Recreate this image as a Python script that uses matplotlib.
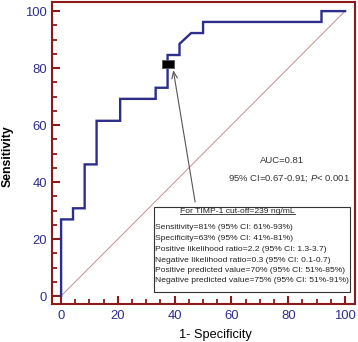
import matplotlib
matplotlib.use("Agg")
import matplotlib.pyplot as plt
from matplotlib.ticker import MultipleLocator
from matplotlib.patches import Rectangle
from matplotlib.lines import Line2D

plt.rcParams['font.family'] = ['Liberation Sans', 'DejaVu Sans']
plt.rcParams['mathtext.fontset'] = 'custom'
plt.rcParams['mathtext.rm'] = 'Liberation Sans'
plt.rcParams['mathtext.it'] = 'Liberation Sans:italic'

# ROC curve (1-specificity %, sensitivity %)
fpr = [0, 0, 4.2, 4.2, 8.3, 8.3, 12.5, 12.5, 20.8, 20.8, 33.3, 33.3, 37.5, 37.5,
       41.7, 41.7, 45.8, 50.0, 50.0, 91.7, 91.7, 100]
tpr = [0, 26.9, 26.9, 30.8, 30.8, 46.2, 46.2, 61.5, 61.5, 69.2, 69.2, 73.1, 73.1, 84.6,
       84.6, 88.5, 92.3, 92.3, 96.2, 96.2, 100, 100]
cutoff_point = (37.5, 81.5)
xticks = [0, 20, 40, 60, 80, 100]
yticks = [0, 20, 40, 60, 80, 100]
auc_lines = ["AUC=0.81", "95% CI=0.67-0.91; $P$< 0.001"]
box_title = "For TIMP-1 cut-off=239 ng/mL"
box_lines = [
    "Sensitivity=81% (95% CI: 61%-93%)",
    "Specificity=63% (95% CI: 41%-81%)",
    "Positive likelihood ratio=2.2 (95% CI: 1.3-3.7)",
    "Negative likelihood ratio=0.3 (95% CI: 0.1-0.7)",
    "Positive predicted value=70% (95% CI: 51%-85%)",
    "Negative predicted value=75% (95% CI: 51%-91%)",
]

spine_col = '#8C1A1A'
line_col = '#2D2E8C'
tick_col = '#2E2E8E'

fig = plt.figure(figsize=(3.58, 3.42), dpi=100)
ax = fig.add_axes([52/358, 38/342, 303/358, 302/342])
ax.set_xlim(-3.2, 103.5)
ax.set_ylim(-2.8, 103.2)

# diagonal reference
ax.plot([0, 100], [0, 100], color='#C09090', lw=0.7, zorder=1)
# ROC curve
ax.plot(fpr, tpr, color=line_col, lw=1.7, zorder=3, solid_joinstyle='miter')
# cut-off marker
ax.plot([cutoff_point[0]], [cutoff_point[1]], marker=[(-1.5, -1), (1.5, -1), (1.5, 1), (-1.5, 1), (-1.5, -1)],
        markersize=8.5, color='black', markeredgecolor='#555555', markeredgewidth=0.6, zorder=5)

for s in ax.spines.values():
    s.set_color(spine_col)
    s.set_linewidth(1.5)

ax.set_xticks(xticks)
ax.set_yticks(yticks)
ax.xaxis.set_minor_locator(MultipleLocator(5))
ax.yaxis.set_minor_locator(MultipleLocator(5))
ax.tick_params(which='major', direction='in', length=6, width=1.5, color=spine_col,
               labelcolor=tick_col, labelsize=9.4)
ax.tick_params(axis='x', which='major', pad=4.0)
ax.tick_params(axis='y', which='major', pad=3.6)
ax.tick_params(which='minor', direction='in', length=3.6, width=1.3, color=spine_col)
ax.tick_params(top=False, right=False, which='both')

fig.text(215/358, 4/342, "1- Specificity", ha='center', va='baseline', fontsize=9.2, color='black')
fig.text(7.5/358, 1 - 156/342, "Sensitivity", ha='center', va='center', rotation=90,
         fontsize=8.8, fontweight='bold', color='black')

# AUC text
ax.text(77.7, 47.7, auc_lines[0], ha='center', va='center', fontsize=6.8, color='#333333')
ax.text(80.3, 41.3, auc_lines[1], ha='center', va='center', fontsize=6.8, color='#333333')

# info box
box = Rectangle((32.7, 1.4), 101.8 - 32.7, 31.2 - 1.4, facecolor='white', edgecolor='#333333',
                lw=0.8, zorder=4)
ax.add_patch(box)
t_title = ax.text(62.1, 29.5, box_title, ha='center', va='center', fontsize=6.1, color='#222222',
                  zorder=6)
ys = [23.9, 20.2, 16.3, 12.6, 8.9, 5.3]
for y, s in zip(ys, box_lines):
    ax.text(33.2, y, s, ha='left', va='center', fontsize=6.1, color='#222222', zorder=6)

# arrow
ax.annotate('', xy=(39.5, 79.3), xytext=(47.2, 33.0),
            arrowprops=dict(arrowstyle='->,head_length=0.5,head_width=0.2', color='#555555',
                            lw=0.8, shrinkA=0, shrinkB=0), zorder=6)

# underline title
fig.canvas.draw()
bb = t_title.get_window_extent()
inv = fig.transFigure.inverted()
(x0, y0), (x1, _) = inv.transform([(bb.x0, bb.y0 + 1), (bb.x1, bb.y0)])
fig.add_artist(Line2D([x0, x1], [y0, y0], color='#222222', lw=0.6, zorder=7))

fig.savefig('out.png', dpi=100)
